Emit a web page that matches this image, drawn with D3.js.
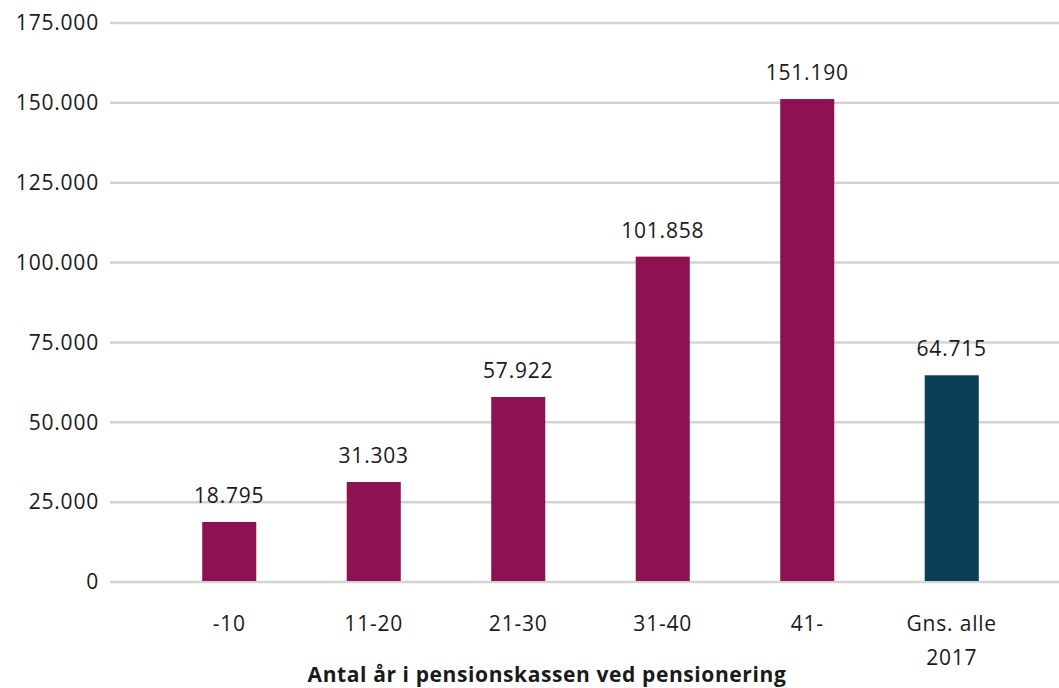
<!DOCTYPE html>
<html>
<head>
<meta charset="utf-8">
<script src="https://cdn.jsdelivr.net/npm/d3@7"></script>
<style>
  body { margin: 0; background: #fff; }
  text { font-family: "Open Sans", sans-serif; fill: #1a1a1a; letter-spacing: 0.8px; }
</style>
</head>
<body>
<svg id="chart" width="1059" height="688"></svg>
<script>
const categories = ["-10", "11-20", "21-30", "31-40", "41-", "Gns. alle|2017"];
const values = [18795, 31303, 57922, 101858, 151190, 64715];
const barColors = ["#8e1152", "#8e1152", "#8e1152", "#8e1152", "#8e1152", "#0a3f58"];
const yTicks = [0, 25000, 50000, 75000, 100000, 125000, 150000, 175000];
const xTitle = "Antal år i pensionskassen ved pensionering";

const width = 1059, height = 688;
const svg = d3.select("#chart");

const fmt = (v) => d3.format(",")(v).replace(/,/g, ".");

const x = d3.scaleBand().domain(categories).range([157, 1024])
  .paddingInner(0.626).paddingOuter(0.313);
const y = d3.scaleLinear().domain([0, 175000]).range([582, 23]);

// gridlines
svg.append("g").selectAll("line").data(yTicks).join("line")
  .attr("x1", 110).attr("x2", width)
  .attr("y1", (d) => y(d)).attr("y2", (d) => y(d))
  .attr("stroke", "#d3d3d3").attr("stroke-width", 2.5);

// y labels
svg.append("g").selectAll("text").data(yTicks).join("text")
  .attr("x", 99).attr("y", (d) => y(d)).attr("dy", "0.35em")
  .attr("text-anchor", "end").attr("font-size", 21)
  .text(fmt);

// bars
svg.append("g").selectAll("rect").data(values).join("rect")
  .attr("x", (d, i) => x(categories[i]))
  .attr("width", x.bandwidth())
  .attr("y", (d) => y(d))
  .attr("height", (d) => y(0) - y(d) + 1)
  .attr("fill", (d, i) => barColors[i]);

// zero line on top
svg.append("line")
  .attr("x1", 110).attr("x2", width).attr("y1", y(0)).attr("y2", y(0))
  .attr("stroke", "#d3d3d3").attr("stroke-width", 2);

// value labels
svg.append("g").selectAll("text").data(values).join("text")
  .attr("x", (d, i) => x(categories[i]) + x.bandwidth() / 2)
  .attr("y", (d) => y(d) - 19)
  .attr("text-anchor", "middle").attr("font-size", 21)
  .text(fmt);

// category labels
const cat = svg.append("g").selectAll("text").data(categories).join("text")
  .attr("x", (d) => x(d) + x.bandwidth() / 2)
  .attr("y", 631)
  .attr("text-anchor", "middle").attr("font-size", 21);
cat.selectAll("tspan").data((d) => d.split("|")).join("tspan")
  .attr("x", function () { return this.parentNode.getAttribute("x"); })
  .attr("dy", (d, i) => (i === 0 ? 0 : 34))
  .text((d) => d);

// axis title
svg.append("text")
  .attr("x", 547).attr("y", 682)
  .attr("text-anchor", "middle").attr("font-size", 21).attr("font-weight", "bold")
  .style("letter-spacing", "0.6px")
  .text(xTitle);
</script>
</body>
</html>
